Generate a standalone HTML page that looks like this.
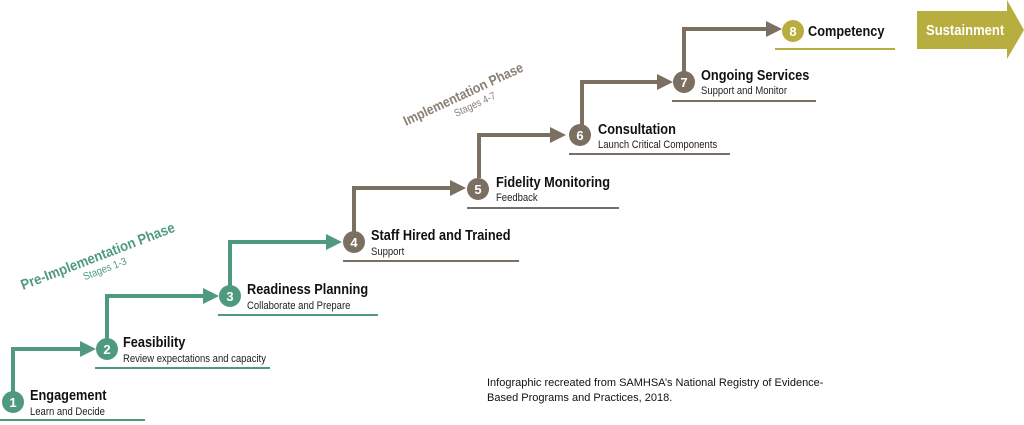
<!DOCTYPE html>
<html><head><style>
body{margin:0;background:#fff;}
svg{display:block;font-family:"Liberation Sans",sans-serif;}
.t{font-weight:bold;font-size:14.5px;fill:#111;}
.s{font-size:10.8px;fill:#222;}
.n{font-weight:bold;font-size:13px;fill:#fff;text-anchor:middle;}
</style></head><body>
<svg width="1024" height="425" viewBox="0 0 1024 425">
<defs>
<marker id="ag" markerWidth="4" markerHeight="4" refX="1" refY="2" orient="auto" markerUnits="strokeWidth"><path d="M0,0L4,2L0,4z" fill="#4f9a7f"/></marker>
<marker id="ab" markerWidth="4" markerHeight="4" refX="1" refY="2" orient="auto" markerUnits="strokeWidth"><path d="M0,0L4,2L0,4z" fill="#7b6f61"/></marker>
</defs>
<g fill="none" stroke-width="4">
<path d="M13,392V349H84" stroke="#4f9a7f" marker-end="url(#ag)"/>
<path d="M107,340V296H207" stroke="#4f9a7f" marker-end="url(#ag)"/>
<path d="M230,286V242H330" stroke="#4f9a7f" marker-end="url(#ag)"/>
<path d="M354,232V188H454" stroke="#7b6f61" marker-end="url(#ab)"/>
<path d="M479,178V135H554" stroke="#7b6f61" marker-end="url(#ab)"/>
<path d="M582,125V82H661" stroke="#7b6f61" marker-end="url(#ab)"/>
<path d="M684,72V29H770" stroke="#7b6f61" marker-end="url(#ab)"/>
</g>
<g stroke-width="2">
<line x1="0" y1="420" x2="145" y2="420" stroke="#4f9a7f"/>
<line x1="95" y1="368" x2="270" y2="368" stroke="#4f9a7f"/>
<line x1="218" y1="315" x2="378" y2="315" stroke="#4f9a7f"/>
<line x1="343" y1="261" x2="519" y2="261" stroke="#7b6f61"/>
<line x1="467" y1="208" x2="619" y2="208" stroke="#7b6f61"/>
<line x1="569" y1="154" x2="730" y2="154" stroke="#7b6f61"/>
<line x1="672" y1="101" x2="816" y2="101" stroke="#7b6f61"/>
<line x1="775" y1="49" x2="895" y2="49" stroke="#b8ad3f"/>
</g>
<g>
<circle cx="13" cy="402" r="11" fill="#4f9a7f"/><text class="n" x="13" y="407">1</text>
<circle cx="107" cy="349" r="11" fill="#4f9a7f"/><text class="n" x="107" y="354">2</text>
<circle cx="230" cy="296" r="11" fill="#4f9a7f"/><text class="n" x="230" y="301">3</text>
<circle cx="354" cy="242" r="11" fill="#7b6f61"/><text class="n" x="354" y="247">4</text>
<circle cx="478" cy="189" r="11" fill="#7b6f61"/><text class="n" x="478" y="194">5</text>
<circle cx="580" cy="135" r="11" fill="#7b6f61"/><text class="n" x="580" y="140">6</text>
<circle cx="684" cy="82" r="11" fill="#7b6f61"/><text class="n" x="684" y="87">7</text>
<circle cx="793" cy="31" r="11" fill="#b8ad3f"/><text class="n" x="793" y="36">8</text>
</g>
<g transform="translate(30,0) scale(0.88,1)"><text class="t" y="400">Engagement</text><text class="s" y="415">Learn and Decide</text></g>
<g transform="translate(123,0) scale(0.88,1)"><text class="t" y="347">Feasibility</text><text class="s" y="362">Review expectations and capacity</text></g>
<g transform="translate(247,0) scale(0.88,1)"><text class="t" y="294">Readiness Planning</text><text class="s" y="309">Collaborate and Prepare</text></g>
<g transform="translate(371,0) scale(0.88,1)"><text class="t" y="240">Staff Hired and Trained</text><text class="s" y="255">Support</text></g>
<g transform="translate(496,0) scale(0.88,1)"><text class="t" y="187">Fidelity Monitoring</text><text class="s" y="201">Feedback</text></g>
<g transform="translate(598,0) scale(0.88,1)"><text class="t" y="134">Consultation</text><text class="s" y="148">Launch Critical Components</text></g>
<g transform="translate(701,0) scale(0.88,1)"><text class="t" y="80">Ongoing Services</text><text class="s" y="94">Support and Monitor</text></g>
<g transform="translate(808,0) scale(0.88,1)"><text class="t" y="36">Competency</text></g>
<path d="M917,11H1007V0L1024,30L1007,59V49H917Z" fill="#b8ad3f"/>
<g transform="translate(926,0) scale(0.9,1)"><text y="35" style="font-weight:bold;font-size:14.5px;fill:#fff">Sustainment</text></g>
<g transform="translate(23,290) rotate(-21) scale(0.9,1)"><text style="font-weight:bold;font-size:14.5px;fill:#4f9a7f">Pre-Implementation Phase</text><text x="68" y="13" style="font-size:10.5px;fill:#4f9a7f">Stages 1-3</text></g>
<g transform="translate(406,126) rotate(-25) scale(0.88,1)"><text style="font-weight:bold;font-size:14px;fill:#8a7f72">Implementation Phase</text><text x="56" y="13" style="font-size:10.5px;fill:#8a7f72">Stages 4-7</text></g>
<text x="487" y="386" style="font-size:11px;fill:#111">Infographic recreated from SAMHSA’s National Registry of Evidence-</text>
<text x="487" y="401" style="font-size:11px;fill:#111">Based Programs and Practices, 2018.</text>
</svg>
</body></html>
